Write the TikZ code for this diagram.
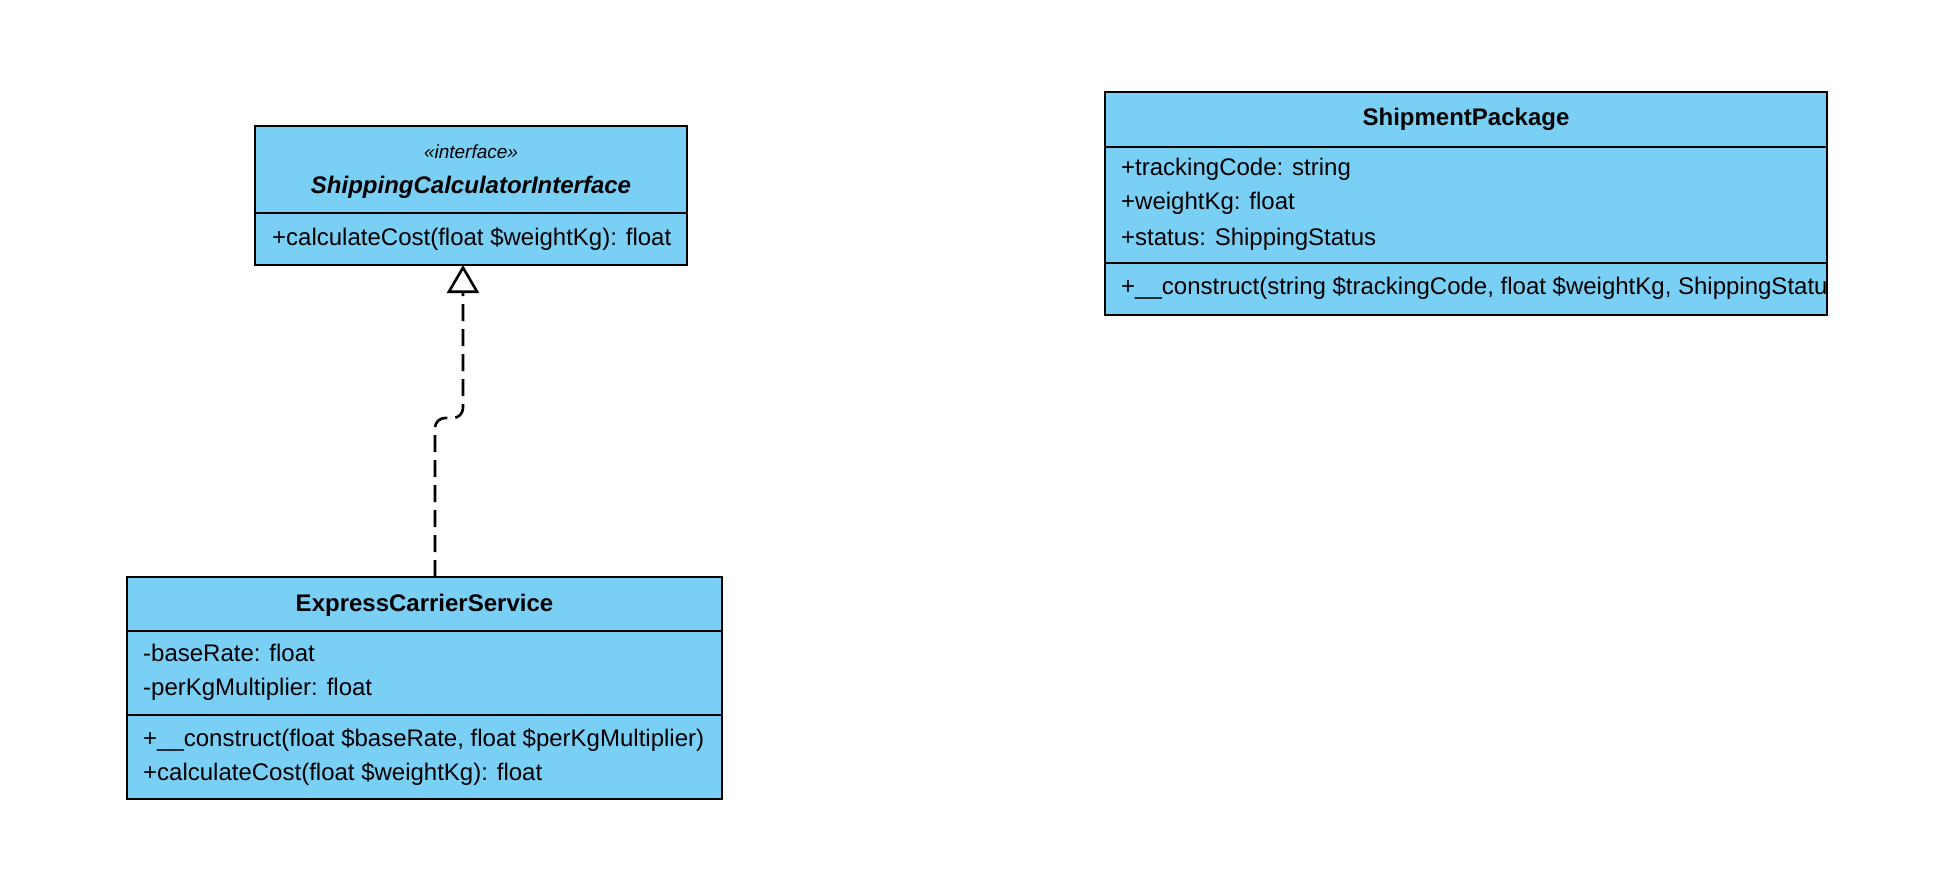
\documentclass[tikz,border=0pt]{standalone}
\usepackage{fontspec}
\setmainfont{Liberation Sans}
\usetikzlibrary{arrows.meta}
\definecolor{classblue}{RGB}{122,207,245}

\begin{document}
\begin{tikzpicture}[x=1pt,y=-1pt]
    \tikzset{compart/.style = {shape=rectangle,draw,fill=classblue,line width=2pt,inner sep=0pt,outer sep=0pt,anchor=north west}}
    \tikzset{member/.style = {inner sep=0pt,anchor=west,text height=17pt,text depth=5pt,font=\fontsize{24}{28}\selectfont}}
    \tikzset{classname/.style = {member,anchor=center,font=\fontsize{24}{28}\selectfont\bfseries}}
    \tikzset{realize/.style = {-{Triangle[open,width=32pt,length=28pt]},line width=2.6pt,dash pattern=on 17pt off 8pt,rounded corners=10pt}}
    \useasboundingbox (0,0) rectangle (1954,896);
    % compartments
    \node[compart,minimum width=432pt,minimum height=87pt] (ifacehead) at (255,126) {};
    \node[compart,minimum width=432pt,minimum height=52pt] (ifacebody) at (255,213) {};
    \node[compart,minimum width=722pt,minimum height=55pt] (shiphead) at (1105,92) {};
    \node[compart,minimum width=722pt,minimum height=116pt] (shipattr) at (1105,147) {};
    \node[compart,minimum width=722pt,minimum height=52pt] (shipmeth) at (1105,263) {};
    \node[compart,minimum width=595pt,minimum height=54pt] (exphead) at (127,577) {};
    \node[compart,minimum width=595pt,minimum height=84pt] (expattr) at (127,631) {};
    \node[compart,minimum width=595pt,minimum height=84pt] (expmeth) at (127,715) {};
    % texts
    \node[member,anchor=center,font=\fontsize{19}{22}\selectfont\itshape] (ifacestereo) at (471,153) {«interface»};
    \node[classname,font=\fontsize{24}{28}\selectfont\bfseries\itshape] (ifacename) at (471,188) {ShippingCalculatorInterface};
    \node[member] (ifacecost) at (272,239) {+calculateCost(float \$weightKg): float};
    \node[classname] (shipname) at (1466,120) {ShipmentPackage};
    \node[member] (shipcode) at (1121,170) {+trackingCode: string};
    \node[member] (shipweight) at (1121,204) {+weightKg: float};
    \node[member] (shipstatus) at (1121,239) {+status: ShippingStatus};
    \begin{scope}
        \clip (shipmeth.south west) rectangle (shipmeth.north east);
        \node[member] (shipctor) at (1121,288) {+\_\_construct(string \$trackingCode, float \$weightKg, ShippingStatu};
    \end{scope}
    \node[classname] (expname) at (424.5,605) {ExpressCarrierService};
    \node[member] (exprate) at (143,655) {-baseRate: float};
    \node[member] (expmult) at (143,689) {-perKgMultiplier: float};
    \node[member] (expctor) at (143,740) {+\_\_construct(float \$baseRate, float \$perKgMultiplier)};
    \node[member] (expcost) at (143,774) {+calculateCost(float \$weightKg): float};
    % edges
    \coordinate (lowbend) at (435,418);
    \coordinate (highbend) at (463,418);
    \draw[realize] (exphead.north -| lowbend) -- (lowbend) -- (highbend) -- (ifacebody.south -| highbend);
\end{tikzpicture}
\end{document}
